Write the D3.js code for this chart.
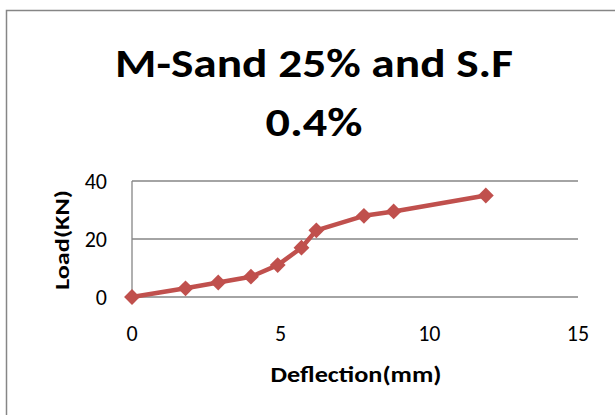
<!DOCTYPE html>
<html><head><meta charset="utf-8">
<script src="https://d3js.org/d3.v7.min.js"></script>
<style>
body{margin:0;background:#fff;}
text{font-family:Carlito, Calibri, Lato, "Open Sans", sans-serif;fill:#000;}
</style></head>
<body><svg id="c" width="615" height="415"></svg>
<script>
const deflection = [0, 1.8, 2.9, 4.0, 4.9, 5.7, 6.2, 7.8, 8.8, 11.9];
const load = [0, 3, 5, 7, 11, 17, 23, 28, 29.5, 35];
const xTicks = [0, 5, 10, 15];
const yTicks = [0, 20, 40];
const titleLines = ["M-Sand 25% and S.F", "0.4%"];
const xTitle = "Deflection(mm)";
const yTitle = "Load(KN)";

const svg = d3.select("#c");
svg.append("rect").attr("x",6.5).attr("y",10.5).attr("width",620).attr("height",420)
  .attr("fill","#fff").attr("stroke","#868686").attr("stroke-width",1.5);

const x = d3.scaleLinear().domain([0,15]).range([132,578]);
const y = d3.scaleLinear().domain([0,40]).range([297,181]);

// gridlines
svg.append("g").selectAll("line").data(yTicks).join("line")
  .attr("x1",x(0)).attr("x2",x(15)).attr("y1",d=>y(d)).attr("y2",d=>y(d))
  .attr("stroke","#868686").attr("stroke-width",1.3);
svg.append("line").attr("x1",x(0)).attr("x2",x(0)).attr("y1",y(0)).attr("y2",y(40))
  .attr("stroke","#868686").attr("stroke-width",1.3);

// tick labels
svg.append("g").selectAll("text").data(yTicks).join("text")
  .attr("x",107).attr("y",d=>y(d)+8).attr("text-anchor","end")
  .attr("font-size",22).text(d=>d);
svg.append("g").selectAll("text").data(xTicks).join("text")
  .attr("x",d=>x(d)).attr("y",341).attr("text-anchor","middle")
  .attr("font-size",22).text(d=>d);

// titles
const tl = [398, 97];
svg.append("g").selectAll("text").data(titleLines).join("text")
  .attr("x",314).attr("y",(d,i)=>[77,136][i]).attr("text-anchor","middle")
  .attr("font-size",41).attr("font-weight",900)
  .attr("textLength",(d,i)=>tl[i]).attr("lengthAdjust","spacingAndGlyphs").text(d=>d);
svg.append("text").attr("x",356).attr("y",382).attr("text-anchor","middle")
  .attr("font-size",23).attr("font-weight","bold")
  .attr("textLength",171).attr("lengthAdjust","spacingAndGlyphs").text(xTitle);
svg.append("text").attr("transform","translate(69,240) rotate(-90)")
  .attr("text-anchor","middle").attr("font-size",21).attr("font-weight","bold")
  .attr("textLength",100).attr("lengthAdjust","spacingAndGlyphs").text(yTitle);

// series
const pts = deflection.map((d,i)=>[d, load[i]]);
svg.append("path").datum(pts)
  .attr("d", d3.line().x(d=>x(d[0])).y(d=>y(d[1])))
  .attr("fill","none").attr("stroke","#C0504D").attr("stroke-width",4.5).attr("stroke-linejoin","round");
svg.append("g").selectAll("path").data(pts).join("path")
  .attr("transform",d=>`translate(${x(d[0])},${y(d[1])})`)
  .attr("d", d3.symbol(d3.symbolDiamond2, 160)())
  .attr("fill","#C0504D");
</script></body></html>
